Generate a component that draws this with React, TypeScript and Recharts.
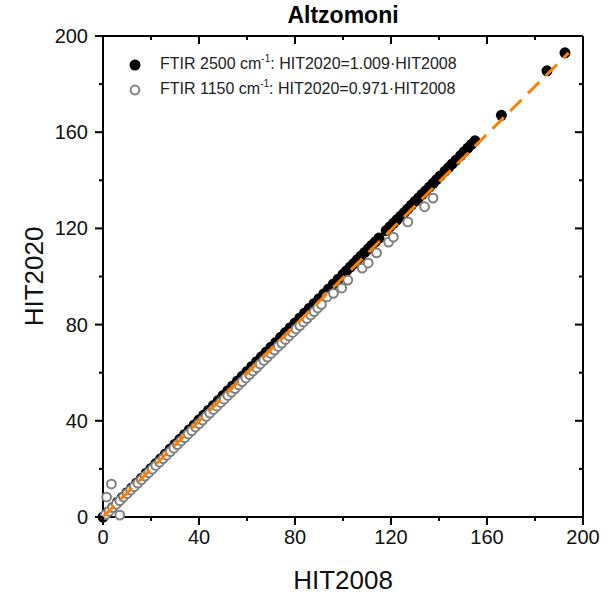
import React from 'react';
import { ScatterChart, Scatter, XAxis, YAxis, Label } from 'recharts';

const FONT = 'Arial, "Liberation Sans", sans-serif';

// FTIR 2500 cm-1 (filled black)
const hit2008_2500 = [
  0, 2, 4, 6, 8, 10, 12, 14, 16, 18, 20, 22, 24, 26, 28, 30, 32, 34, 36, 38,
  40, 42, 44, 46, 48, 50, 52, 54, 56, 58, 60, 62, 64, 66, 68, 70, 72, 74, 76, 78,
  80, 82, 84, 86, 88, 90, 92, 94, 96, 98,
  100, 101.5, 103, 104.5, 106, 107.5, 109, 110.5, 112, 113.5, 115,
  118, 119.5, 121, 122.5, 124, 125.5, 127, 128.5, 130, 131.5, 133, 134.5, 136, 137.5, 139, 140.5,
  142.5, 144, 145.5, 147, 149, 150.5, 152, 153.5, 155,
  166, 185, 192.5,
];
const hit2020_2500 = [
  0, 2.0, 4.0, 6.1, 8.1, 10.1, 12.1, 14.1, 16.1, 18.2, 20.2, 22.2, 24.2, 26.2, 28.3, 30.3, 32.3, 34.3, 36.3, 38.3,
  40.4, 42.4, 44.4, 46.4, 48.4, 50.5, 52.5, 54.5, 56.5, 58.5, 60.5, 62.6, 64.6, 66.6, 68.6, 70.6, 72.6, 74.7, 76.7, 78.7,
  80.7, 82.7, 84.8, 86.8, 88.8, 90.8, 92.8, 94.8, 96.9, 98.9,
  100.9, 102.4, 103.9, 105.4, 107.0, 108.5, 110.0, 111.5, 113.0, 114.5, 116.0,
  119.1, 120.6, 122.1, 123.6, 125.1, 126.6, 128.1, 129.7, 131.2, 132.7, 134.2, 135.7, 137.2, 138.7, 140.3, 141.8,
  143.8, 145.3, 146.8, 148.3, 150.3, 151.9, 153.4, 154.9, 156.4,
  167.0, 185.5, 193.0,
];

// FTIR 1150 cm-1 (open grey)
const hit2008_1150 = [
  1.5, 3.5, 7,
  1, 2.5, 4, 5.5, 7, 8.5, 10, 11.5, 13, 14.5, 16, 17.5, 19, 20.5, 22, 23.5, 25, 26.5, 28, 29.5,
  31, 32.5, 34, 35.5, 37, 38.5, 40, 41.5, 43, 44.5, 46, 47.5, 49, 50.5, 52, 53.5, 55, 56.5, 58, 59.5,
  61, 62.5, 64, 65.5, 67, 68.5, 70, 71.5, 73, 74.5, 76, 77.5, 79, 80.5, 82, 83.5, 85, 86.5, 88, 89.5, 91,
  93.3, 96, 99.5, 102, 108, 110.5, 114, 119, 121, 127, 134, 137.5,
];
const hit2020_1150 = [
  8.3, 13.7, 0.8,
  1.0, 2.4, 3.9, 5.3, 6.8, 8.3, 9.7, 11.2, 12.6, 14.1, 15.5, 17.0, 18.4, 19.9, 21.4, 22.8, 24.3, 25.7, 27.2, 28.6,
  30.1, 31.6, 33.0, 34.5, 35.9, 37.4, 38.8, 40.3, 41.8, 43.2, 44.7, 46.1, 47.6, 49.0, 50.5, 51.9, 53.4, 54.9, 56.3, 57.8,
  59.2, 60.7, 62.1, 63.6, 65.1, 66.5, 68.0, 69.4, 70.9, 72.3, 73.8, 75.3, 76.7, 78.2, 79.6, 81.1, 82.5, 84.0, 85.4, 86.9, 88.4,
  91.5, 93.0, 95.2, 98.5, 103.5, 105.6, 109.8, 114.3, 116.4, 122.7, 129.0, 132.6,
];

// orange dashed fit
const fitX = [0, 194];
const fitY = [0, 193];

const axisTicks = [0, 20, 40, 60, 80, 100, 120, 140, 160, 180, 200];
const labelTicks = [0, 40, 80, 120, 160, 200];

const data2500 = hit2008_2500.map((x, i) => ({ x, y: hit2020_2500[i] }));
const data1150 = hit2008_1150.map((x, i) => ({ x, y: hit2020_1150[i] }));
const fitData = fitX.map((x, i) => ({ x, y: fitY[i] }));

const tickLen = (v: number) => (labelTicks.includes(v) ? 8 : 4);

const BottomTick = (props: any) => {
  const { x, y, payload } = props;
  const len = tickLen(payload.value);
  return (
    <g>
      <line x1={x} x2={x} y1={y} y2={y + len} stroke="#000" strokeWidth={2} />
      {labelTicks.includes(payload.value) && (
        <text x={x} y={y + 27} textAnchor="middle" fontSize={20} fontFamily={FONT} fill="#111">
          {payload.value}
        </text>
      )}
    </g>
  );
};

const LeftTick = (props: any) => {
  const { x, y, payload } = props;
  const len = tickLen(payload.value);
  return (
    <g>
      <line x1={x - len} x2={x} y1={y} y2={y} stroke="#000" strokeWidth={2} />
      {labelTicks.includes(payload.value) && (
        <text x={x - 15} y={y + 7} textAnchor="end" fontSize={20} fontFamily={FONT} fill="#111">
          {payload.value}
        </text>
      )}
    </g>
  );
};

const TopTick = (props: any) => {
  const { x, y, payload } = props;
  const len = tickLen(payload.value);
  return <line x1={x} x2={x} y1={y} y2={y + len} stroke="#000" strokeWidth={2} />;
};

const RightTick = (props: any) => {
  const { x, y, payload } = props;
  const len = tickLen(payload.value);
  return <line x1={x - len} x2={x} y1={y} y2={y} stroke="#000" strokeWidth={2} />;
};

const YTitle = (props: any) => {
  const { viewBox } = props;
  const cx = viewBox.x + 43;
  const cy = viewBox.y + viewBox.height / 2;
  return (
    <text
      x={cx}
      y={cy}
      transform={`rotate(-90, ${cx}, ${cy})`}
      textAnchor="middle"
      fontSize={26}
      fontFamily={FONT}
      fill="#111"
    >
      HIT2020
    </text>
  );
};

const App = () => {
  return (
    <div style={{ position: 'absolute', left: 0, top: 0, width: 615, height: 594, background: '#fff' }}>
      <ScatterChart width={615} height={594} margin={{ top: 35, right: 31, left: 0, bottom: 0 }}>
        <XAxis
          xAxisId={0}
          type="number"
          dataKey="x"
          domain={[0, 200]}
          ticks={axisTicks}
          interval={0}
          height={77}
          tickSize={0}
          tickMargin={0}
          tick={<BottomTick />}
          axisLine={{ stroke: '#000', strokeWidth: 2 }}
        >
          <Label value="HIT2008" position="insideBottom" offset={5} fontSize={26} fontFamily={FONT} fill="#111" />
        </XAxis>
        <XAxis
          xAxisId="top"
          orientation="top"
          type="number"
          dataKey="x"
          domain={[0, 200]}
          ticks={axisTicks}
          interval={0}
          height={1}
          tickSize={0}
          tickMargin={0}
          tick={<TopTick />}
          axisLine={{ stroke: '#000', strokeWidth: 2 }}
        />
        <YAxis
          yAxisId={0}
          type="number"
          dataKey="y"
          domain={[0, 200]}
          ticks={axisTicks}
          interval={0}
          width={103}
          tickSize={0}
          tickMargin={0}
          tick={<LeftTick />}
          axisLine={{ stroke: '#000', strokeWidth: 2 }}
        >
          <Label content={<YTitle />} />
        </YAxis>
        <YAxis
          yAxisId="right"
          orientation="right"
          type="number"
          dataKey="y"
          domain={[0, 200]}
          ticks={axisTicks}
          interval={0}
          width={1}
          tickSize={0}
          tickMargin={0}
          tick={<RightTick />}
          axisLine={{ stroke: '#000', strokeWidth: 2 }}
        />
        <Scatter
          data={data2500}
          isAnimationActive={false}
          shape={(p: any) => <circle cx={p.cx} cy={p.cy} r={5.5} fill="#000" />}
        />
        <Scatter
          data={data1150}
          isAnimationActive={false}
          shape={(p: any) => <circle cx={p.cx} cy={p.cy} r={4.4} fill="#fff" stroke="#808080" strokeWidth={2} />}
        />
        <Scatter
          data={fitData}
          xAxisId="top"
          yAxisId="right"
          isAnimationActive={false}
          line={{ stroke: '#FF7F00', strokeWidth: 3, strokeDasharray: '16 9' }}
          shape={() => <g />}
        />
      </ScatterChart>
      <div
        style={{
          position: 'absolute',
          left: 103,
          top: 2,
          width: 480,
          textAlign: 'center',
          fontFamily: FONT,
          fontWeight: 'bold',
          fontSize: 23,
          color: '#000',
        }}
      >
        Altzomoni
      </div>
      <div
        style={{
          position: 'absolute',
          left: 125,
          top: 52,
          fontFamily: FONT,
          fontSize: 16,
          lineHeight: '25px',
          color: '#222',
          whiteSpace: 'nowrap',
        }}
      >
        <div style={{ display: 'flex', alignItems: 'center', height: 25 }}>
          <svg width={20} height={20}>
            <circle cx={10} cy={10} r={5.5} fill="#000" />
          </svg>
          <span style={{ marginLeft: 15 }}>
            FTIR 2500 cm<span style={{ fontSize: 10, position: 'relative', top: -7 }}>-1</span>: HIT2020=1.009·HIT2008
          </span>
        </div>
        <div style={{ display: 'flex', alignItems: 'center', height: 25 }}>
          <svg width={20} height={20}>
            <circle cx={10} cy={10} r={4.4} fill="#fff" stroke="#808080" strokeWidth={2} />
          </svg>
          <span style={{ marginLeft: 15 }}>
            FTIR 1150 cm<span style={{ fontSize: 10, position: 'relative', top: -7 }}>-1</span>: HIT2020=0.971·HIT2008
          </span>
        </div>
      </div>
    </div>
  );
};

export default App;
